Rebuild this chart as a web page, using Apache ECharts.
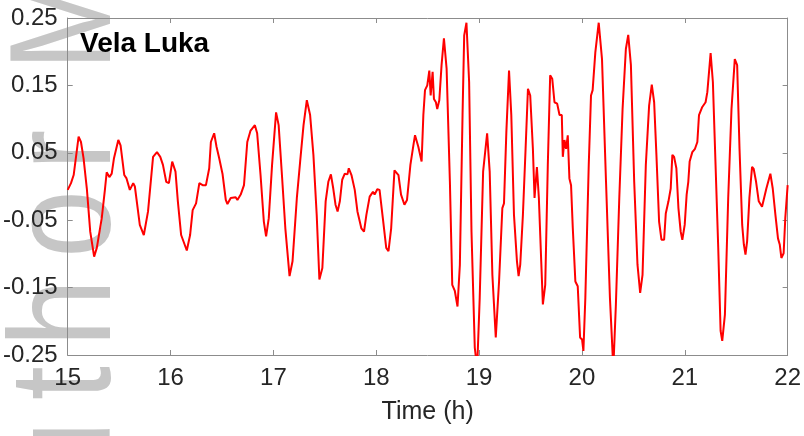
<!DOCTYPE html>
<html>
<head>
<meta charset="utf-8">
<script src="https://cdn.jsdelivr.net/npm/echarts@6/dist/echarts.min.js"></script>
<style>
  html, body { margin: 0; padding: 0; background: #fff; }
  #main { width: 804px; height: 436px; }
</style>
</head>
<body>
<div id="main"></div>
<script>
// sea level (m), time in hours
var times = [
  15.000, 15.032, 15.058, 15.106, 15.129, 15.154, 15.186, 15.219, 15.257, 15.283,
  15.331, 15.363, 15.379, 15.405, 15.428, 15.450, 15.492, 15.514, 15.550, 15.572,
  15.604, 15.637, 15.653, 15.701, 15.740, 15.781, 15.830, 15.868, 15.900, 15.926,
  15.958, 15.984, 16.016, 16.032, 16.048, 16.071, 16.103, 16.158, 16.190, 16.215,
  16.248, 16.280, 16.312, 16.344, 16.376, 16.392, 16.424, 16.447, 16.473, 16.505,
  16.537, 16.553, 16.585, 16.633, 16.650, 16.682, 16.714, 16.746, 16.778, 16.820,
  16.842, 16.875, 16.907, 16.929, 16.955, 16.987, 17.026, 17.051, 17.083, 17.116,
  17.157, 17.186, 17.228, 17.260, 17.293, 17.325, 17.357, 17.389, 17.421, 17.447,
  17.476, 17.508, 17.534, 17.559, 17.582, 17.604, 17.624, 17.646, 17.669, 17.694,
  17.720, 17.733, 17.759, 17.791, 17.817, 17.855, 17.881, 17.904, 17.936, 17.968,
  17.984, 18.010, 18.032, 18.064, 18.097, 18.119, 18.145, 18.177, 18.193, 18.216,
  18.241, 18.274, 18.299, 18.332, 18.364, 18.377, 18.409, 18.441,
  18.458, 18.474, 18.496, 18.516, 18.529, 18.548, 18.561, 18.580, 18.593, 18.613,
  18.635, 18.658, 18.684, 18.716, 18.739, 18.764, 18.790, 18.813, 18.839, 18.855,
  18.877, 18.903, 18.926, 18.958, 18.981, 19.006, 19.039, 19.078, 19.103, 19.129,
  19.162, 19.194, 19.226, 19.242, 19.265, 19.291, 19.313, 19.339, 19.368, 19.384,
  19.400, 19.426, 19.452, 19.475, 19.497, 19.523, 19.539, 19.562, 19.581, 19.604,
  19.620, 19.643, 19.668, 19.691, 19.711, 19.733, 19.759, 19.782, 19.804, 19.814,
  19.830, 19.846, 19.862, 19.878, 19.894, 19.911, 19.936, 19.959, 19.982, 20.001,
  20.014, 20.033, 20.066, 20.088, 20.104, 20.130, 20.163, 20.195, 20.234, 20.272,
  20.305, 20.330, 20.363, 20.395, 20.427, 20.450, 20.476, 20.508, 20.540, 20.566,
  20.589, 20.621, 20.653, 20.679, 20.702, 20.724, 20.750, 20.773, 20.799, 20.815,
  20.841, 20.863, 20.879, 20.896, 20.918, 20.938, 20.960, 20.976, 20.999, 21.018,
  21.034, 21.047, 21.073, 21.099, 21.122, 21.138, 21.170, 21.202, 21.219, 21.251,
  21.273, 21.299, 21.325, 21.348, 21.364, 21.390, 21.422, 21.454, 21.486, 21.509,
  21.532, 21.558, 21.574, 21.590, 21.606, 21.628, 21.654, 21.670, 21.693, 21.719,
  21.751, 21.767, 21.793, 21.832, 21.855, 21.881, 21.906, 21.923, 21.939, 21.961,
  21.977, 22.000
];
var levels = [
  -0.005, 0.005, 0.017, 0.074, 0.066, 0.042, -0.003, -0.067, -0.104, -0.091,
  -0.047, -0.003, 0.021, 0.014, 0.019, 0.042, 0.069, 0.061, 0.017, 0.012,
  -0.005, 0.005, 0.000, -0.057, -0.072, -0.037, 0.044, 0.051, 0.044, 0.032,
  0.007, 0.005, 0.037, 0.038, 0.022, -0.022, -0.072, -0.095, -0.072, -0.035,
  -0.025, 0.005, 0.002, 0.002, 0.027, 0.066, 0.079, 0.059, 0.042, 0.019,
  -0.020, -0.026, -0.017, -0.016, -0.020, -0.012, 0.002, 0.066, 0.083, 0.091,
  0.079, 0.017, -0.052, -0.074, -0.047, 0.032, 0.110, 0.091, 0.017, -0.062,
  -0.133, -0.111, -0.017, 0.037, 0.091, 0.128, 0.106, 0.047, -0.042, -0.138,
  -0.121, -0.022, 0.007, 0.018, -0.003, -0.027, -0.037, -0.022, 0.010, 0.019,
  0.018, 0.027, 0.017, -0.005, -0.037, -0.062, -0.067, -0.042, -0.015, -0.008,
  -0.012, -0.004, -0.005, -0.047, -0.091, -0.096, -0.062, 0.024, 0.025, 0.017,
  -0.012, -0.027, -0.020, 0.032, 0.064, 0.076, 0.059, 0.037,
  0.106, 0.143, 0.150, 0.172, 0.135, 0.170, 0.130, 0.125, 0.115, 0.128,
  0.180, 0.220, 0.175, 0.007, -0.146, -0.155, -0.178, -0.116, 0.106, 0.224,
  0.243, 0.155, -0.067, -0.239, -0.270, -0.165, 0.022, 0.079, 0.022, -0.131,
  -0.224, -0.141, -0.032, -0.025, 0.081, 0.172, 0.106, -0.042, -0.111, -0.133,
  -0.116, -0.042, 0.056, 0.145, 0.135, 0.056, -0.017, 0.029, -0.017, -0.111,
  -0.175, -0.146, 0.032, 0.165, 0.160, 0.125, 0.123, 0.106, 0.106, 0.044,
  0.069, 0.056, 0.076, 0.012, 0.002, -0.062, -0.141, -0.148, -0.224, -0.227,
  -0.244, -0.165, 0.032, 0.135, 0.143, 0.199, 0.243, 0.189, 0.007, -0.165,
  -0.270, -0.175, -0.017, 0.115, 0.204, 0.225, 0.180, 0.007, -0.116, -0.158,
  -0.131, 0.032, 0.120, 0.151, 0.125, 0.047, -0.052, -0.079, -0.079, -0.040,
  -0.022, -0.003, 0.047, 0.044, 0.027, -0.032, -0.067, -0.079, -0.057, -0.012,
  0.007, 0.037, 0.051, 0.056, 0.066, 0.106, 0.118, 0.125, 0.140, 0.198,
  0.155, 0.032, -0.091, -0.214, -0.229, -0.190, -0.017, 0.115, 0.189, 0.180,
  0.056, -0.057, -0.086, -0.101, -0.081, -0.017, 0.029, 0.026, 0.007, -0.022,
  -0.030, -0.032, -0.003, 0.019, -0.003, -0.042, -0.077, -0.086, -0.106, -0.099,
  -0.047, 0.002
];
var stationName = 'Vela Luka';
var xTitle = 'Time (h)';

var seriesData = [];
for (var i = 0; i < times.length; i++) {
	seriesData.push([times[i], levels[i]]);
}

var axisColor = '#8c8c8c';
var labelColor = '#262626';
var fontName = '"Liberation Sans", Arial, sans-serif';

// watermark letters running up the left edge (letter, centre y)
var markLetters = [['u', 455], ['t', 383], ['h', 313], ['o', 224], ['r', 150], ['M', 20]];
var graphics = [];
for (var k = 0; k < markLetters.length; k++) {
	graphics.push({
		type: 'text',
		z: -10,
		x: 143,
		y: markLetters[k][1],
		rotation: Math.PI / 2,
		scaleX: 0.84,
		style: {
			text: markLetters[k][0],
			font: '145px ' + fontName,
			fill: '#c6c6c6',
			align: 'center',
			verticalAlign: 'bottom'
		}
	});
}
graphics.push({
	type: 'text',
	left: 80,
	top: 30,
	z: 100,
	style: {
		text: stationName,
		font: 'bold 28px ' + fontName,
		fill: '#000000'
	}
});

var myChart = echarts.init(document.getElementById('main'));

var option = {
	animation: false,
	backgroundColor: '#ffffff',
	grid: { left: 66, right: 15, top: 18, bottom: 81, containLabel: false },
	graphic: graphics,
	xAxis: [
		{
			type: 'value',
			position: 'bottom',
			min: 15,
			max: 22,
			interval: 1,
			name: xTitle,
			nameLocation: 'middle',
			nameGap: 45,
			nameTextStyle: { color: labelColor, fontSize: 25, fontFamily: fontName },
			axisLine: { show: true, onZero: false, lineStyle: { color: axisColor, width: 1 } },
			axisTick: { show: true, inside: true, length: 5, lineStyle: { color: axisColor } },
			axisLabel: { color: labelColor, fontSize: 24, fontFamily: fontName, margin: 11 },
			splitLine: { show: false }
		},
		{
			type: 'value',
			position: 'top',
			min: 15,
			max: 22,
			interval: 1,
			axisLine: { show: true, onZero: false, lineStyle: { color: axisColor, width: 1 } },
			axisTick: { show: true, inside: true, length: 5, lineStyle: { color: axisColor } },
			axisLabel: { show: false },
			splitLine: { show: false }
		}
	],
	yAxis: [
		{
			type: 'value',
			position: 'left',
			min: -0.25,
			max: 0.25,
			interval: 0.1,
			axisLine: { show: true, onZero: false, lineStyle: { color: axisColor, width: 1 } },
			axisTick: { show: true, inside: true, length: 5, lineStyle: { color: axisColor } },
			axisLabel: {
				color: labelColor, fontSize: 24, fontFamily: fontName, margin: 10,
				formatter: function (v) { return v.toFixed(2); }
			},
			splitLine: { show: false }
		},
		{
			type: 'value',
			position: 'right',
			min: -0.25,
			max: 0.25,
			interval: 0.1,
			axisLine: { show: true, onZero: false, lineStyle: { color: axisColor, width: 1 } },
			axisTick: { show: true, inside: true, length: 5, lineStyle: { color: axisColor } },
			axisLabel: { show: false },
			splitLine: { show: false }
		}
	],
	series: [
		{
			name: stationName,
			type: 'line',
			xAxisIndex: 0,
			yAxisIndex: 0,
			showSymbol: false,
			clip: true,
			z: 5,
			lineStyle: { color: '#ff0000', width: 2 },
			data: seriesData
		}
	]
};

myChart.setOption(option);
</script>
</body>
</html>
